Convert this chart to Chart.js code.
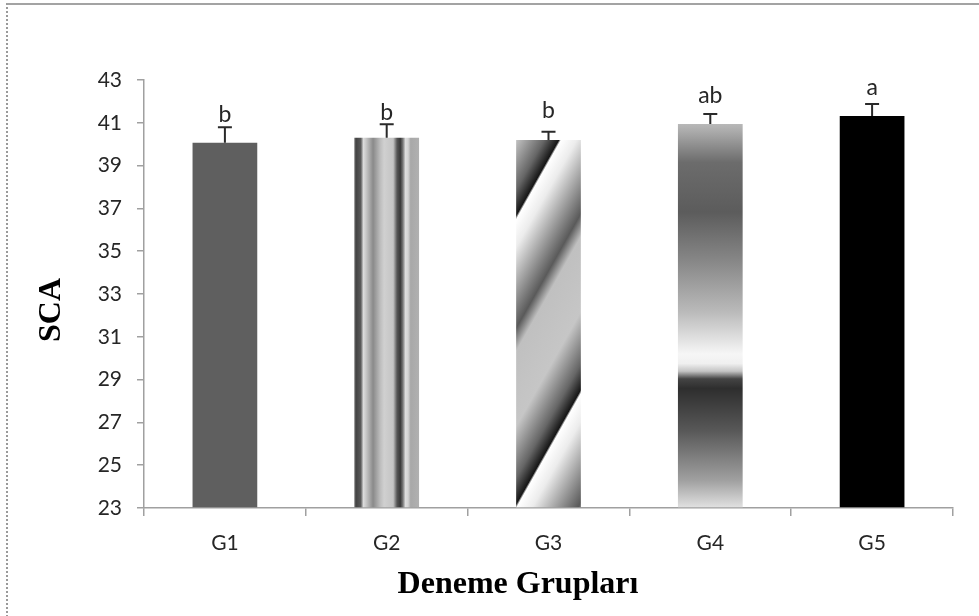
<!DOCTYPE html>
<html>
<head>
<meta charset="utf-8">
<script src="https://cdn.jsdelivr.net/npm/chart.js@4/dist/chart.umd.min.js"></script>
<style>
  html, body { margin: 0; padding: 0; background: #fff; }
  #wrap { position: relative; width: 979px; height: 616px; overflow: hidden; }
  #c { position: absolute; left: 0; top: 0; }
  #frame { position: absolute; left: 6px; top: 3px; width: 990px; height: 611px;
           border-top: 2px solid #a3a3a3; border-left: 2px dotted #9a9a9a; border-bottom: 1px solid #e0e0e0;
           pointer-events: none; }
</style>
</head>
<body>
<div id="wrap">
  <canvas id="c" width="979" height="616"></canvas>
  <div id="frame"></div>
</div>
<script>
const categories = ['G1', 'G2', 'G3', 'G4', 'G5'];
const means = [40.07, 40.30, 40.20, 40.94, 41.32];
const errors = [0.72, 0.63, 0.38, 0.47, 0.56];
const letters = ['b', 'b', 'b', 'ab', 'a'];
const letterBase = [41.04, 41.13, 41.22, 41.93, 42.30];
const yMin = 23, yMax = 43, yStep = 2;
const xTitle = 'Deneme Grupları';
const yTitle = 'SCA';

const baseColors = ['#5f5f5f', '#9a9a9a', '#999999', '#888888', '#000000'];

function addStops(g, stops) { stops.forEach(s => g.addColorStop(Math.min(1, Math.max(0, s[0])), s[1])); }

function makeFill(ctx, i, L, R, top, bottom) {
  const w = R - L;
  if (i === 1) {
    const g = ctx.createLinearGradient(L, 0, R, 0);
    addStops(g, [[0, '#6a6a6a'], [0.03, '#444444'], [0.10, '#5a5a5a'], [0.14, '#dcdcdc'], [0.18, '#c8c8c8'],
                 [0.29, '#8a8a8a'], [0.40, '#bdbdbd'], [0.46, '#d0d0d0'], [0.60, '#c4c4c4'], [0.66, '#555555'],
                 [0.71, '#383838'], [0.75, '#777777'], [0.79, '#dedede'], [0.83, '#d4d4d4'], [0.87, '#a8a8a8'],
                 [1, '#b0b0b0']]);
    return g;
  }
  if (i === 2) {
    const k = w / 65;
    const nx = 0.871, ny = 0.491;
    const P = 142.4 * k;
    const sx = L, sy = bottom;
    const x0 = sx - nx * 2 * P, y0 = sy - ny * 2 * P;
    const x1 = sx + nx * P, y1 = sy + ny * P;
    const g = ctx.createLinearGradient(x0, y0, x1, y1);
    const prof = [[0.004, '#ffffff'], [0.10, '#ececec'], [0.38, '#5a5a5a'], [0.46, '#c0c0c0'], [0.72, '#c6c6c6'],
                  [0.90, '#666666'], [0.99, '#161616']];
    for (let p = 0; p < 3; p++) {
      prof.forEach(s => g.addColorStop((p + s[0]) / 3, s[1]));
    }
    return g;
  }
  if (i === 3) {
    const g = ctx.createLinearGradient(0, top, 0, bottom);
    addStops(g, [[0, '#b8b8b8'], [0.02, '#aaaaaa'], [0.10, '#6c6c6c'], [0.23, '#5c5c5c'], [0.36, '#888888'],
                 [0.49, '#bababa'], [0.60, '#f6f6f6'], [0.625, '#f0f0f0'], [0.645, '#c4c4c4'], [0.665, '#444444'],
                 [0.69, '#2e2e2e'], [0.80, '#585858'], [0.93, '#a0a0a0'], [1, '#e0e0e0']]);
    return g;
  }
  return baseColors[i];
}

const fillPlugin = {
  id: 'fills',
  beforeDatasetsDraw(chart) {
    const ctx = chart.ctx;
    const meta = chart.getDatasetMeta(0);
    const bottomPx = chart.scales.y.getPixelForValue(yMin);
    meta.data.forEach((el, i) => {
      const p = el.getProps(['x', 'y', 'base', 'width'], true);
      const b = Math.min(p.base, bottomPx);
      el.options.backgroundColor = makeFill(ctx, i, p.x - p.width / 2, p.x + p.width / 2, p.y, b);
    });
  }
};

const errPlugin = {
  id: 'errs',
  afterDatasetsDraw(chart) {
    const ctx = chart.ctx, xs = chart.scales.x, ys = chart.scales.y;
    ctx.save();
    means.forEach((m, i) => {
      const x = xs.getPixelForValue(i);
      const y0 = ys.getPixelForValue(m);
      const y1 = ys.getPixelForValue(m + errors[i]);
      ctx.strokeStyle = '#2a2a2a';
      ctx.lineWidth = 2;
      ctx.beginPath();
      ctx.moveTo(x, y0); ctx.lineTo(x, y1);
      ctx.moveTo(x - 7, y1); ctx.lineTo(x + 7, y1);
      ctx.stroke();
      ctx.fillStyle = '#262626';
      ctx.font = '23px Lato';
      ctx.textAlign = 'center';
      ctx.textBaseline = 'alphabetic';
      ctx.fillText(letters[i], x, ys.getPixelForValue(letterBase[i]));
    });
    // axis titles
    ctx.fillStyle = '#000';
    ctx.font = 'bold 32px "Liberation Serif"';
    ctx.textAlign = 'center';
    ctx.textBaseline = 'middle';
    ctx.fillText(xTitle, 518, 585);
    ctx.translate(52, 310);
    ctx.rotate(-Math.PI / 2);
    ctx.fillText(yTitle, 0, 0);
    ctx.restore();
  }
};

new Chart(document.getElementById('c'), {
  type: 'bar',
  data: {
    labels: categories,
    datasets: [{
      data: means,
      base: yMin,
      backgroundColor: baseColors.slice(),
      borderWidth: 0,
      barPercentage: 0.4,
      categoryPercentage: 1.0
    }]
  },
  options: {
    responsive: false,
    animation: false,
    events: [],
    layout: { padding: { top: 80, right: 26, left: 0, bottom: 0 } },
    plugins: { legend: { display: false }, tooltip: { enabled: false } },
    scales: {
      x: {
        grid: { display: true, drawOnChartArea: false, drawTicks: true, tickLength: 8, color: '#a0a0a0', lineWidth: 1.5, offset: true },
        border: { display: true, color: '#a0a0a0', width: 1.5 },
        ticks: { color: '#262626', font: { family: 'Lato', size: 21 }, padding: 15 },
        afterFit(scale) { scale.height = 108; }
      },
      y: {
        min: yMin, max: yMax,
        grid: { display: true, drawOnChartArea: false, drawTicks: true, tickLength: 7, color: '#a0a0a0', lineWidth: 1.5 },
        border: { display: true, color: '#a0a0a0', width: 1.5 },
        ticks: { stepSize: yStep, color: '#262626', font: { family: 'Lato', size: 21 }, padding: 15 },
        afterFit(scale) { scale.width = 144; }
      }
    }
  },
  plugins: [fillPlugin, errPlugin]
});
</script>
</body>
</html>
